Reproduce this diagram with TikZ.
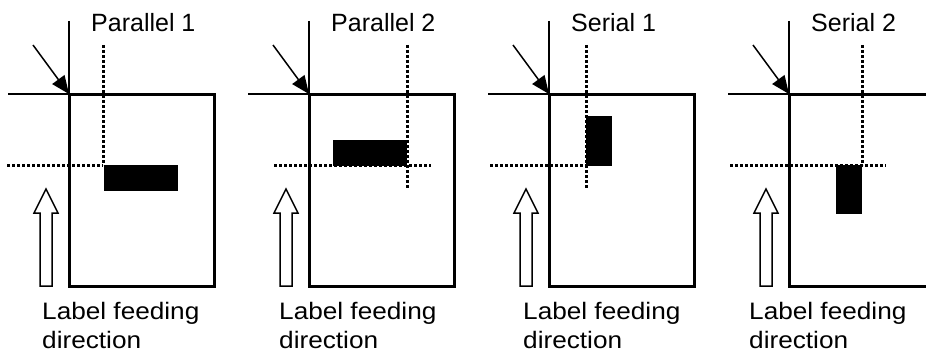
\documentclass[tikz,border=0pt]{standalone}
\usepackage{fontspec}
\setmainfont{Liberation Sans}
\newfontfamily\feedfont{Liberation Sans}[FakeStretch=1.1]
\usetikzlibrary{arrows.meta}
\begin{document}
\begin{tikzpicture}[x=1pt,y=-1pt,
  titletxt/.style={inner sep=0pt,font=\fontsize{25}{29}\selectfont},
  feedtxt/.style={inner sep=0pt,align=left,font=\feedfont\fontsize{23.8}{29.3}\selectfont},
  boxline/.style={line width=3pt},
  guide/.style={line width=2pt},
  pointer/.style={line width=1.5pt,-{Triangle[length=18pt,width=15pt]}},
  dots/.style={line width=3pt,dash pattern=on 3pt off 2pt},
  labelblk/.style={fill=black,draw=none},
  feed/.style={line width=1.5pt,fill=white,line join=miter}]
\useasboundingbox (0,0) rectangle (926,353);
\begin{scope}
\clip (0,0) rectangle (926,353);
\foreach \L/\t/\lx [count=\i] in {69/Parallel 1/42, 309/Parallel 2/279, 549/Serial 1/523, 789/Serial 2/749}{
  \coordinate (c\i) at (\L,94);
  \draw[guide] (\L,21) -- (c\i);
  \draw[guide] (\L-61,94) -- (c\i);
  \draw[boxline] (c\i) rectangle (\L+145,286);
  \draw[pointer] (\L-36,45) -- (c\i);
  \draw[feed] (\L-29,286) -- (\L-29,213) -- (\L-35,213) -- (\L-23,189) -- (\L-11,213) -- (\L-17,213) -- (\L-17,286) -- cycle;
  \node[titletxt,anchor=base west] (title\i) at (\L+22,32) {\t};
  \node[feedtxt,anchor=north west] (feedtext\i) at (\lx,302.2) {Label feeding\\direction};
}
% Parallel 1
\draw[dots] (103,45) -- (103,165);
\draw[dots] (7,165) -- (103,165);
\fill[labelblk] (104,165) rectangle (178,191);
% Parallel 2
\draw[dots] (407,45) -- (407,189);
\draw[dots] (274,165) -- (431,165);
\fill[labelblk] (333,140) rectangle (407,166);
% Serial 1
\draw[dots] (586,45) -- (586,189);
\draw[dots] (490,165) -- (586,165);
\fill[labelblk] (586,116) rectangle (612,166);
% Serial 2
\draw[dots] (862,45) -- (862,165);
\draw[dots] (730,165) -- (886,165);
\fill[labelblk] (836,165) rectangle (862,214);
\end{scope}
\end{tikzpicture}
\end{document}
